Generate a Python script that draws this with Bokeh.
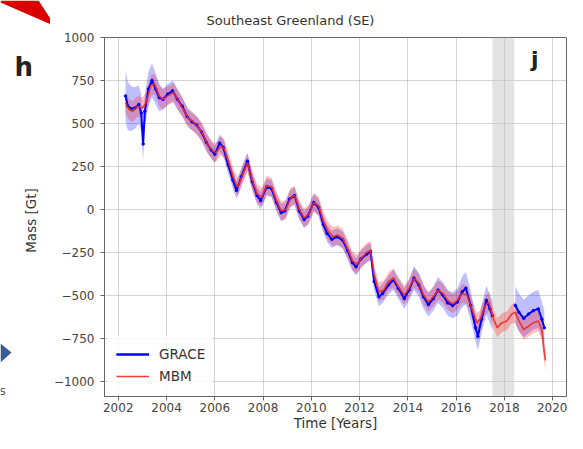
import numpy as np
from bokeh.plotting import figure
from bokeh.layouts import row
from bokeh.models import (ColumnDataSource, BoxAnnotation, Label, Legend, LegendItem,
                          FixedTicker, Title, Range1d)
from bokeh.core.properties import value
from bokeh.embed import file_html
from bokeh.resources import INLINE

# ---------------- data ----------------
grace_t = [2002.30, 2002.40, 2002.55, 2002.70, 2002.85, 2002.95, 2003.03, 2003.10, 2003.25, 2003.40,
           2003.55, 2003.70, 2003.85, 2004.05, 2004.25, 2004.45, 2004.65, 2004.85, 2005.05, 2005.25,
           2005.45, 2005.65, 2005.85, 2006.00, 2006.20, 2006.35, 2006.55, 2006.75, 2006.90, 2007.10,
           2007.35, 2007.55, 2007.75, 2007.90, 2008.15, 2008.35, 2008.55, 2008.75, 2008.90, 2009.10,
           2009.30, 2009.50, 2009.70, 2009.85, 2010.10, 2010.30, 2010.50, 2010.65, 2010.85, 2011.05,
           2011.30, 2011.50, 2011.70, 2011.85, 2012.05, 2012.30, 2012.45, 2012.60, 2012.80, 2012.95,
           2013.20, 2013.40, 2013.60, 2013.85, 2014.05, 2014.25, 2014.45, 2014.65, 2014.85, 2015.05,
           2015.25, 2015.45, 2015.65, 2015.85, 2016.05, 2016.25, 2016.40, 2016.60, 2016.80, 2016.90,
           2017.05, 2017.25, 2017.40, 2017.50,
           2018.45, 2018.60, 2018.80, 2019.00, 2019.20, 2019.40, 2019.55, 2019.65]
grace_mass = [660, 600, 585, 590, 610, 560, 380, 570, 700, 750,
              700, 650, 640, 670, 690, 640, 600, 540, 510, 490,
              450, 390, 345, 320, 385, 360, 260, 170, 110, 190,
              280, 160, 80, 50, 130, 120, 40, -20, -10, 60,
              80, -10, -60, -40, 40, 10, -90, -140, -175, -160,
              -180, -240, -310, -335, -290, -260, -245, -420, -510, -490,
              -440, -410, -460, -520, -470, -400, -440, -510, -555, -520,
              -470, -500, -545, -560, -540, -480, -460, -560, -690, -740,
              -640, -530, -580, -620,
              -560, -600, -635, -610, -590, -580, -640, -690]
grace_err = [150, 140, 130, 120, 110, 110, 100, 100, 100, 100,
             90, 80, 60, 60, 60, 60, 55, 50, 50, 50,
             50, 50, 50, 50, 50, 50, 50, 50, 50, 50,
             50, 50, 50, 50, 50, 50, 50, 50, 50, 50,
             50, 50, 50, 50, 50, 50, 50, 50, 50, 50,
             50, 50, 50, 50, 50, 50, 50, 55, 55, 55,
             55, 60, 60, 60, 60, 70, 70, 70, 70, 70,
             75, 75, 75, 75, 80, 90, 95, 85, 80, 80,
             80, 85, 85, 85,
             110, 110, 110, 110, 110, 110, 100, 100]

mbm_t = [2002.30, 2002.45, 2002.60, 2002.80, 2003.00, 2003.15, 2003.35, 2003.50, 2003.70, 2003.85,
         2004.05, 2004.30, 2004.50, 2004.70, 2004.90, 2005.10, 2005.30, 2005.50, 2005.70, 2005.90,
         2006.05, 2006.25, 2006.40, 2006.60, 2006.80, 2006.95, 2007.15, 2007.35, 2007.55, 2007.75,
         2007.95, 2008.15, 2008.35, 2008.55, 2008.75, 2008.95, 2009.15, 2009.30, 2009.50, 2009.70,
         2009.90, 2010.10, 2010.30, 2010.50, 2010.70, 2010.90, 2011.10, 2011.30, 2011.50, 2011.70,
         2011.90, 2012.10, 2012.30, 2012.45, 2012.60, 2012.80, 2013.00, 2013.20, 2013.40, 2013.60,
         2013.85, 2014.05, 2014.25, 2014.45, 2014.65, 2014.85, 2015.05, 2015.25, 2015.45, 2015.65,
         2015.85, 2016.05, 2016.25, 2016.45, 2016.65, 2016.85, 2017.00, 2017.20, 2017.35, 2017.55,
         2017.70, 2017.90, 2018.10, 2018.30, 2018.45, 2018.60, 2018.80, 2019.00, 2019.20, 2019.40,
         2019.55, 2019.62, 2019.70]
mbm_mass = [620, 580, 570, 600, 590, 620, 720, 730, 660, 640,
            660, 680, 630, 580, 530, 510, 480, 440, 380, 340,
            330, 370, 350, 260, 170, 130, 200, 270, 170, 90,
            70, 140, 130, 50, -10, 0, 70, 80, 0, -50,
            -30, 40, 20, -70, -130, -160, -150, -170, -230, -300,
            -320, -280, -250, -240, -380, -480, -470, -420, -400, -450,
            -500, -460, -400, -430, -500, -540, -510, -470, -490, -530,
            -550, -530, -490, -500, -580, -660, -640, -560, -540, -640,
            -690, -660, -650, -610, -600, -650, -700, -680, -660, -650,
            -700, -800, -880]
mbm_err = [60, 60, 60, 60, 60, 60, 60, 60, 60, 60,
           55, 55, 55, 55, 55, 55, 55, 55, 55, 55,
           55, 55, 55, 55, 55, 55, 55, 55, 55, 55,
           55, 55, 55, 55, 55, 55, 55, 55, 55, 55,
           55, 55, 55, 55, 55, 55, 55, 55, 55, 55,
           55, 55, 55, 55, 55, 55, 55, 55, 55, 55,
           55, 55, 55, 55, 55, 55, 55, 55, 55, 55,
           55, 55, 55, 55, 55, 55, 55, 55, 55, 55,
           55, 55, 55, 55, 60, 60, 60, 60, 60, 60,
           60, 65, 65]

gap_start, gap_end = 2017.5, 2018.4
x_ticks = [2002, 2004, 2006, 2008, 2010, 2012, 2014, 2016, 2018, 2020]
y_ticks = [-1000, -750, -500, -250, 0, 250, 500, 750, 1000]
y_tick_labels = ["\u22121000", "\u2212750", "\u2212500", "\u2212250", "0", "250", "500", "750", "1000"]

title_text = "Southeast Greenland (SE)"
x_label = "Time [Years]"
y_label = "Mass [Gt]"
FONT = "DejaVu Sans"
H = 433
LW = 50

# ---------------- left strip: panel letter, y label, cropped neighbour arrows ----------------
left = figure(width=LW, height=H, output_backend="svg", toolbar_location=None,
              x_range=Range1d(0, LW), y_range=Range1d(0, H),
              min_border=0, min_border_left=0, min_border_right=0, min_border_top=0, min_border_bottom=0)
left.frame_align = False
left.axis.visible = False
left.grid.visible = False
left.outline_line_color = None
left.background_fill_color = "white"
left.border_fill_color = "white"
left.patch([0, 38, 55, 0], [H, H, H - 26, H - 2], fill_color="#d80000", line_color=None)
left.patch([0, 11, 0], [H - 343, H - 352, H - 362], fill_color="#3a5c96", line_color=None)
left.text([14], [H - 66], text=["h"], text_font=value(FONT), text_font_size="26px",
          text_font_style="bold", text_color="#222222", text_align="left", text_baseline="alphabetic")
left.text([-1], [H - 390], text=["s"], text_font=value(FONT), text_font_size="12px",
          text_color="#555555", text_align="left", text_baseline="alphabetic")
left.text([30], [H - 220], text=[y_label], angle=np.pi / 2, text_font=value(FONT),
          text_font_size="13.5px", text_color="#333333", text_align="center", text_baseline="middle")

# ---------------- main figure ----------------
p = figure(width=567 - LW, height=H, output_backend="svg", toolbar_location=None,
           x_range=Range1d(2001.43, 2020.57), y_range=Range1d(-1090, 1000),
           min_border_left=103 - LW, min_border_right=1, min_border_top=37, min_border_bottom=36)
p.frame_align = False
p.background_fill_color = "white"
p.border_fill_color = "white"
p.outline_line_color = "#666666"
p.outline_line_width = 1

t = Title(text=title_text, align="left", offset=102, text_font=FONT, text_font_size="13px",
          text_font_style="normal", text_color="#333333", standoff=20)
p.add_layout(t, "above")

p.xaxis.ticker = FixedTicker(ticks=x_ticks)
p.yaxis.ticker = FixedTicker(ticks=y_ticks)
p.yaxis.major_label_overrides = {v: s for v, s in zip(y_ticks, y_tick_labels)}
for ax in (p.xaxis, p.yaxis):
    ax.major_label_text_font = FONT
    ax.major_label_text_font_size = "12px"
    ax.major_label_text_color = "#444444"
    ax.axis_label_text_font = FONT
    ax.axis_label_text_font_size = "13.5px"
    ax.axis_label_text_font_style = "normal"
    ax.axis_label_text_color = "#333333"
    ax.minor_tick_line_color = None
    ax.major_tick_out = 4
    ax.major_tick_in = 0
    ax.major_tick_line_color = "#666666"
    ax.axis_line_color = "#666666"
p.xaxis.axis_label = x_label
p.yaxis.major_label_standoff = 6
p.xaxis.major_label_standoff = 2
p.xaxis.axis_label_standoff = 0

p.grid.grid_line_color = "#b0b0b0"
p.grid.grid_line_alpha = 0.55

p.add_layout(BoxAnnotation(left=gap_start, right=gap_end, fill_color="#c8c8c8", fill_alpha=0.5,
                           line_color=None, level="underlay"))

gt = np.array(grace_t); gm = np.array(grace_mass, float); ge = np.array(grace_err, float)
mt = np.array(mbm_t); mm = np.array(mbm_mass, float); me = np.array(mbm_err, float)

segs = [gt < gap_start + 0.05, gt > gap_end]
for m in segs:
    p.varea(x=gt[m], y1=gm[m] - ge[m], y2=gm[m] + ge[m], fill_color="blue", fill_alpha=0.25)
p.varea(x=mt, y1=mm - me, y2=mm + me, fill_color="red", fill_alpha=0.25)

g_lines = []
for m in segs:
    src = ColumnDataSource(dict(x=gt[m], y=gm[m]))
    g_lines.append(p.line("x", "y", source=src, line_color="blue", line_width=2))
    p.scatter("x", "y", source=src, size=2.5, color="blue")
r_line = p.line(mt, mm, line_color="#ee2b24", line_width=1.6, line_alpha=0.9)

legend = Legend(items=[LegendItem(label="GRACE", renderers=g_lines),
                       LegendItem(label="MBM", renderers=[r_line])],
                location=(4, 2), glyph_width=33, glyph_height=20, spacing=2, padding=8,
                label_standoff=10, label_text_font=FONT, label_text_font_size="13.5px",
                label_text_color="#333333", border_line_alpha=0, background_fill_alpha=0.8,
                margin=0)
p.add_layout(legend)

p.add_layout(Label(x=2019.1, y=800, text="j", text_font=FONT, text_font_size="22px",
                   text_font_style="bold", text_color="#222222"))

open("out.html", "w").write(file_html(row(left, p), INLINE))
